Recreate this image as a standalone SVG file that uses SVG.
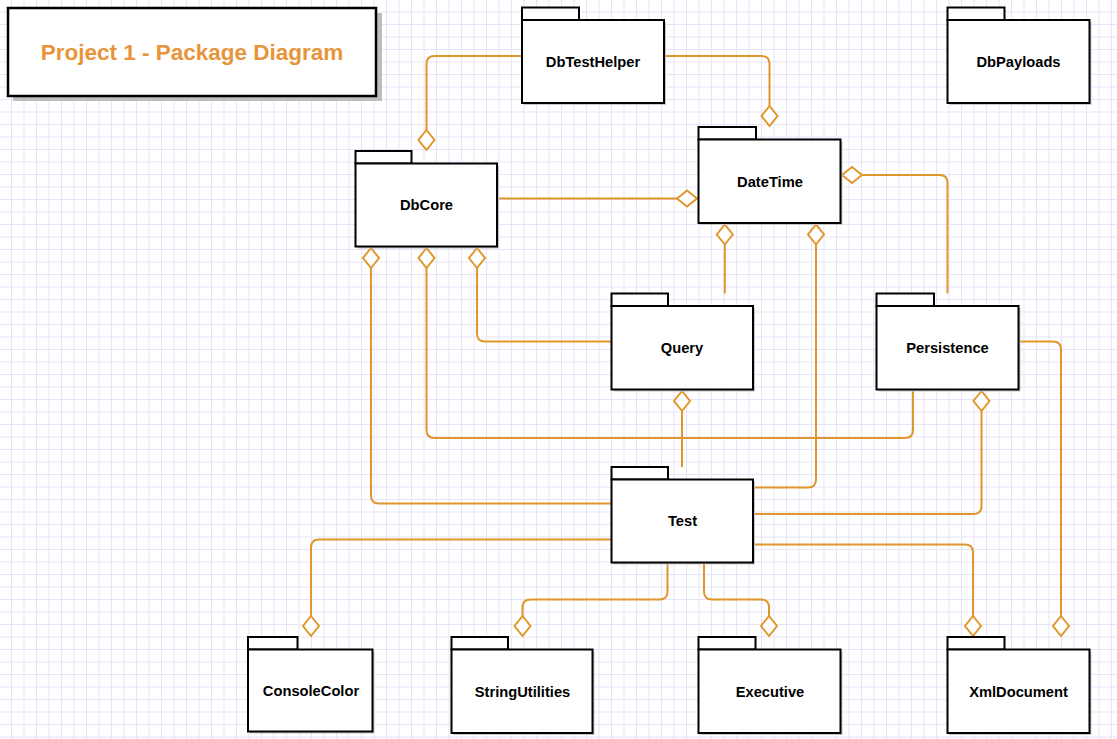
<svg xmlns="http://www.w3.org/2000/svg" width="1117" height="739" viewBox="0 0 1117 739">
<defs>
<pattern id="grid" x="-1.5" y="-1" width="12.5" height="12.5" patternUnits="userSpaceOnUse">
<path d="M0.5,0 V12.5 M0,0.5 H12.5" fill="none" stroke="#E6E3F9" stroke-width="1"/>
</pattern>
<marker id="dia" markerUnits="userSpaceOnUse" markerWidth="24" markerHeight="20" viewBox="-2 -2 24 20" refX="20" refY="8" orient="auto">
<path d="M0,8 L10,0 L20,8 L10,16 Z" fill="#FFFFFF" stroke="#E0962A" stroke-width="2"/>
</marker>
<style>
.pkg rect.b, .pkg rect.t { fill:#FFFFFF; stroke:#000000; stroke-width:2; }
.pkg rect.s { fill:#C8C8C8; }
.pkg text { font-family:"Liberation Sans", Arial, Helvetica, sans-serif; font-weight:bold; font-size:14.7px; fill:#000000; text-anchor:middle; }
#connectors path { fill:none; stroke:#E0962A; stroke-width:2; marker-end:url(#dia); }
</style>
</defs>
<rect x="0" y="0" width="1117" height="739" fill="#FFFFFF"/>
<rect x="0" y="0" width="1117" height="739" fill="url(#grid)"/>

<g id="title">
<rect x="13" y="13" width="369" height="88" fill="#BDBDBD"/>
<rect x="8" y="8" width="368" height="88" fill="#FFFFFF" stroke="#000000" stroke-width="2.5"/>
<text x="192" y="60" font-family="Liberation Sans, Arial, Helvetica, sans-serif" font-weight="bold" font-size="22.5" fill="#E8943A" text-anchor="middle">Project 1 - Package Diagram</text>
</g>

<g id="connectors">
<path d="M522,56 H434.5 Q426.5,56 426.5,64 V150"/>
<path d="M664,56 H761.5 Q769.5,56 769.5,64 V126"/>
<path d="M497,198.5 H697"/>
<path d="M611.5,341.5 H485 Q477,341.5 477,333.5 V248"/>
<path d="M913,389.5 V430 Q913,438 905,438 H434.5 Q426.5,438 426.5,430 V248"/>
<path d="M611.5,503.5 H379 Q371,503.5 371,495.5 V248"/>
<path d="M724.8,293.5 V224.5"/>
<path d="M753,487.5 H808 Q816,487.5 816,479.5 V224.5"/>
<path d="M947.5,293.5 V183 Q947.5,175 939.5,175 H842"/>
<path d="M682,467 V391"/>
<path d="M753,514 H973.5 Q981.5,514 981.5,506 V391"/>
<path d="M611.5,539.5 H319 Q311,539.5 311,547.5 V636"/>
<path d="M667.5,562.5 V591.5 Q667.5,599.5 659.5,599.5 H530.5 Q522.5,599.5 522.5,607.5 V636"/>
<path d="M704,562.5 V591.5 Q704,599.5 712,599.5 H761 Q769,599.5 769,607.5 V636"/>
<path d="M753,544.5 H965 Q973,544.5 973,552.5 V636"/>
<path d="M1018.5,341.5 H1053 Q1061,341.5 1061,349.5 V636"/>
</g>

<g id="DbTestHelper" class="pkg">
<rect class="s" x="524" y="22" width="142" height="83"/>
<rect class="t" x="522" y="7.5" width="57" height="12.5"/>
<rect class="b" x="522" y="20" width="142" height="83"/>
<text x="593" y="67">DbTestHelper</text>
</g>

<g id="DbPayloads" class="pkg">
<rect class="s" x="949.5" y="22" width="142" height="83"/>
<rect class="t" x="947.5" y="7.5" width="57" height="12.5"/>
<rect class="b" x="947.5" y="20" width="142" height="83"/>
<text x="1018.5" y="67">DbPayloads</text>
</g>

<g id="DbCore" class="pkg">
<rect class="s" x="357.5" y="165.5" width="141.5" height="83"/>
<rect class="t" x="355.5" y="151" width="56" height="12.5"/>
<rect class="b" x="355.5" y="163.5" width="141.5" height="83"/>
<text x="426.5" y="210">DbCore</text>
</g>

<g id="DateTime" class="pkg">
<rect class="s" x="700.5" y="141.5" width="142" height="83.5"/>
<rect class="t" x="698.5" y="127" width="57.5" height="12.5"/>
<rect class="b" x="698.5" y="139.5" width="142" height="83.5"/>
<text x="770" y="187">DateTime</text>
</g>

<g id="Query" class="pkg">
<rect class="s" x="613.5" y="308" width="141.5" height="83.5"/>
<rect class="t" x="611.5" y="293.5" width="56.5" height="12.5"/>
<rect class="b" x="611.5" y="306" width="141.5" height="83.5"/>
<text x="682" y="353">Query</text>
</g>

<g id="Persistence" class="pkg">
<rect class="s" x="878.5" y="308" width="142" height="83.5"/>
<rect class="t" x="876.5" y="293.5" width="57.5" height="12.5"/>
<rect class="b" x="876.5" y="306" width="142" height="83.5"/>
<text x="947.5" y="353">Persistence</text>
</g>

<g id="Test" class="pkg">
<rect class="s" x="613.5" y="481.5" width="141.5" height="83"/>
<rect class="t" x="611.5" y="467" width="56.5" height="12.5"/>
<rect class="b" x="611.5" y="479.5" width="141.5" height="83"/>
<text x="682.5" y="526">Test</text>
</g>

<g id="ConsoleColor" class="pkg">
<rect class="s" x="250" y="651.5" width="124.5" height="82"/>
<rect class="t" x="248" y="637" width="49.5" height="12.5"/>
<rect class="b" x="248" y="649.5" width="124.5" height="82"/>
<text x="311" y="696">ConsoleColor</text>
</g>

<g id="StringUtilities" class="pkg">
<rect class="s" x="453.5" y="651.5" width="141" height="83.5"/>
<rect class="t" x="451.5" y="637" width="56.5" height="12.5"/>
<rect class="b" x="451.5" y="649.5" width="141" height="83.5"/>
<text x="522.5" y="697">StringUtilities</text>
</g>

<g id="Executive" class="pkg">
<rect class="s" x="700.5" y="651.5" width="142" height="83.5"/>
<rect class="t" x="698.5" y="637" width="57" height="12.5"/>
<rect class="b" x="698.5" y="649.5" width="142" height="83.5"/>
<text x="770" y="697">Executive</text>
</g>

<g id="XmlDocument" class="pkg">
<rect class="s" x="949.5" y="651.5" width="142" height="83.5"/>
<rect class="t" x="947.5" y="637" width="57" height="12.5"/>
<rect class="b" x="947.5" y="649.5" width="142" height="83.5"/>
<text x="1018.5" y="697">XmlDocument</text>
</g>
</svg>
